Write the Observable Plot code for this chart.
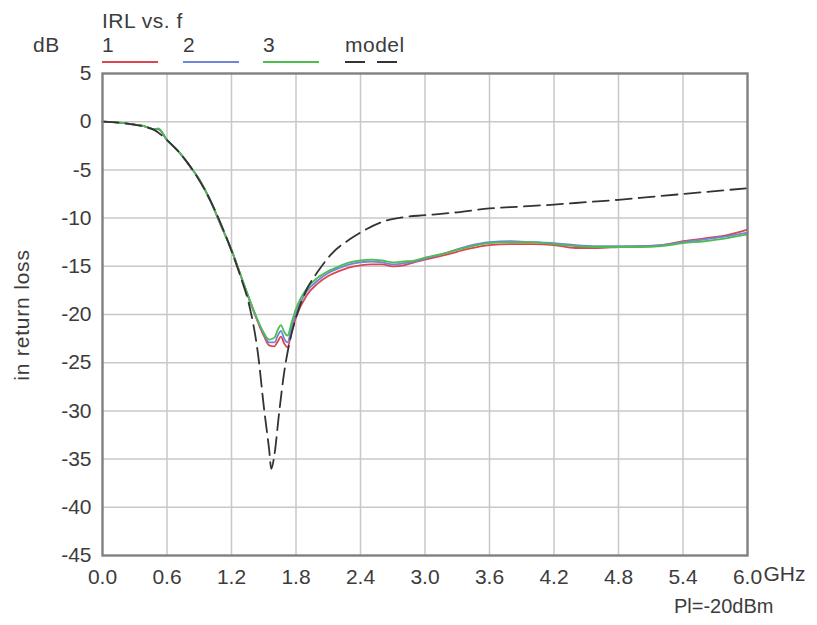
<!DOCTYPE html>
<html>
<head>
<meta charset="utf-8">
<script src="https://cdn.jsdelivr.net/npm/d3@7"></script>
<script src="https://cdn.jsdelivr.net/npm/@observablehq/plot@0.6"></script>
<style>
  body { margin: 0; background: #fff; }
  #wrap { position: relative; width: 817px; height: 625px; font-family: "Liberation Sans", Arial, sans-serif; color: #3c3c3c; }
  .lbl { position: absolute; font-size: 21px; line-height: 22px; white-space: nowrap; letter-spacing: 0.5px; }
  #ylab { position: absolute; font-size: 21px; line-height: 22px; white-space: nowrap; letter-spacing: 0.8px;
          left: 22px; top: 315px; transform: translate(-50%, -50%) rotate(-90deg); }
  #legendSvg { position: absolute; left: 0; top: 0; }
</style>
</head>
<body>
<div id="wrap"></div>
<script>
// ---- data ----
const xTicks = [0, 0.6, 1.2, 1.8, 2.4, 3.0, 3.6, 4.2, 4.8, 5.4, 6.0];
const yTicks = [5, 0, -5, -10, -15, -20, -25, -30, -35, -40, -45];

const seriesNames = ["1", "2", "3", "model"];
const seriesColors = ["#dc4650", "#6f86dc", "#4dbd50", "#333333"];

const freqMeas = [0, 0.1, 0.2, 0.3, 0.4, 0.48, 0.52, 0.6, 0.7, 0.8, 0.9, 1.0, 1.1, 1.2, 1.3, 1.4, 1.5, 1.55, 1.6, 1.63, 1.66, 1.69, 1.72, 1.76, 1.8, 1.9, 2.0, 2.1, 2.2, 2.3, 2.4, 2.5, 2.6, 2.7, 2.8, 2.9, 3.0, 3.2, 3.4, 3.6, 3.8, 4.0, 4.2, 4.4, 4.6, 4.8, 5.0, 5.2, 5.4, 5.6, 5.8, 6.0];

const irl1 = [0, -0.05, -0.15, -0.3, -0.5, -0.8, -0.8, -1.9, -3.0, -4.4, -6.0, -8.1, -10.7, -13.3, -16.4, -19.5, -22.2, -23.2, -23.3, -22.8, -22.3, -23.0, -23.4, -21.8, -20.3, -18.0, -16.8, -16.0, -15.5, -15.1, -14.9, -14.8, -14.8, -15.0, -14.9, -14.6, -14.3, -13.8, -13.2, -12.8, -12.7, -12.7, -12.8, -13.1, -13.1, -13.0, -12.9, -12.8, -12.4, -12.1, -11.8, -11.2];
const irl2 = [0, -0.05, -0.15, -0.3, -0.5, -0.8, -0.75, -1.9, -3.0, -4.4, -6.0, -8.1, -10.7, -13.3, -16.4, -19.4, -22.0, -22.9, -22.9, -22.2, -21.7, -22.5, -22.9, -21.3, -19.9, -17.6, -16.5, -15.7, -15.2, -14.8, -14.6, -14.5, -14.6, -14.8, -14.7, -14.5, -14.2, -13.6, -12.9, -12.5, -12.4, -12.5, -12.6, -12.8, -12.9, -12.9, -12.9, -12.8, -12.5, -12.2, -11.9, -11.5];
const irl3 = [0, -0.05, -0.15, -0.3, -0.5, -0.8, -0.7, -1.9, -3.0, -4.4, -6.0, -8.1, -10.7, -13.3, -16.4, -19.4, -21.9, -22.6, -22.4, -21.6, -21.1, -21.8, -22.2, -20.8, -19.4, -17.3, -16.2, -15.5, -15.0, -14.6, -14.4, -14.3, -14.4, -14.6, -14.5, -14.4, -14.1, -13.6, -13.0, -12.6, -12.5, -12.5, -12.7, -12.9, -13.0, -13.0, -13.0, -12.9, -12.6, -12.4, -12.1, -11.7];

const freqModel = [0, 0.2, 0.4, 0.48, 0.6, 0.8, 1.0, 1.2, 1.3, 1.36, 1.45, 1.5, 1.55, 1.57, 1.6, 1.64, 1.69, 1.74, 1.8, 1.9, 2.0, 2.14, 2.3, 2.4, 2.6, 2.8, 3.0, 3.3, 3.6, 3.9, 4.2, 4.5, 4.8, 5.1, 5.4, 5.7, 6.0];
const irlModel = [0, -0.15, -0.55, -0.85, -1.9, -4.4, -8.1, -13.4, -16.6, -18.8, -24.4, -29.5, -34.0, -36.0, -34.5, -30.5, -26.0, -22.9, -20.3, -17.4, -15.6, -13.6, -12.2, -11.5, -10.4, -9.9, -9.7, -9.4, -9.0, -8.8, -8.6, -8.35, -8.1, -7.8, -7.5, -7.2, -6.9];

// ---- build tables ----
const measured = [irl1, irl2, irl3].flatMap((vals, i) =>
  freqMeas.map((f, j) => ({f, v: vals[j], s: seriesNames[i]})));
const model = freqModel.map((f, j) => ({f, v: irlModel[j]}));

const W = 817, H = 625;
const txt = "#3c3c3c";
const chart = Plot.plot({
  width: W,
  height: H,
  marginLeft: 102,
  marginRight: 70,
  marginTop: 73,
  marginBottom: 70,
  style: {fontFamily: "'Liberation Sans', Arial, sans-serif", fontSize: "21px", color: txt, background: "transparent"},
  x: {domain: [0, 6], ticks: xTicks},
  y: {domain: [-45, 5], ticks: yTicks},
  color: {domain: seriesNames, range: seriesColors},
  marks: [
    Plot.gridX(xTicks.slice(1, -1), {stroke: "#c8c8c8", strokeOpacity: 1, strokeWidth: 1.5}),
    Plot.gridY(yTicks.slice(1, -1), {stroke: "#c8c8c8", strokeOpacity: 1, strokeWidth: 1.5}),
    Plot.axisX(xTicks, {tickSize: 0, tickPadding: 14, tickFormat: d3.format(".1f"), label: null, fill: txt}),
    Plot.axisY(yTicks, {tickSize: 0, tickPadding: 11, tickFormat: d => String(d), label: null, fill: txt}),
    Plot.text([6], {x: d => d, frameAnchor: "bottom", text: () => "GHz", textAnchor: "start", dx: 16, dy: 25, fill: txt, fontSize: 21}),
    Plot.text(["Pl=-20dBm"], {frameAnchor: "bottom-right", text: d => d, textAnchor: "end", dx: 26, dy: 57, fill: txt, fontSize: 20}),
    Plot.line(measured, {x: "f", y: "v", z: "s", stroke: "s", strokeWidth: 1.8, curve: "monotone-x"}),
    Plot.line(model, {x: "f", y: "v", stroke: "#333", strokeWidth: 1.8, strokeDasharray: "16,7", curve: "monotone-x"}),
    Plot.frame({stroke: "#808080", strokeWidth: 2.4})
  ]
});

const wrap = document.getElementById("wrap");
wrap.appendChild(chart);
chart.style.position = "absolute";
chart.style.left = "0";
chart.style.top = "0";

// header texts, y label and legend
function addLabel(text, left, top) {
  const d = document.createElement("div");
  d.className = "lbl";
  d.textContent = text;
  d.style.left = left + "px";
  d.style.top = top + "px";
  wrap.appendChild(d);
}
addLabel("IRL vs. f", 102, 10);
addLabel("dB", 33, 34);
const yl = document.createElement("div");
yl.id = "ylab";
yl.textContent = "in return loss";
wrap.appendChild(yl);

const legendX = [102, 183, 263, 345];
const svgNS = "http://www.w3.org/2000/svg";
const lsvg = document.createElementNS(svgNS, "svg");
lsvg.setAttribute("id", "legendSvg");
lsvg.setAttribute("width", W);
lsvg.setAttribute("height", 70);
seriesNames.forEach((name, i) => {
  addLabel(name, legendX[i], 34);
  const ln = document.createElementNS(svgNS, "line");
  ln.setAttribute("x1", legendX[i]);
  ln.setAttribute("x2", legendX[i] + (name === "model" ? 64 : 56));
  ln.setAttribute("y1", 62);
  ln.setAttribute("y2", 62);
  ln.setAttribute("stroke", seriesColors[i]);
  ln.setAttribute("stroke-width", 1.8);
  if (name === "model") ln.setAttribute("stroke-dasharray", "20,12");
  lsvg.appendChild(ln);
});
wrap.appendChild(lsvg);
</script>
</body>
</html>
